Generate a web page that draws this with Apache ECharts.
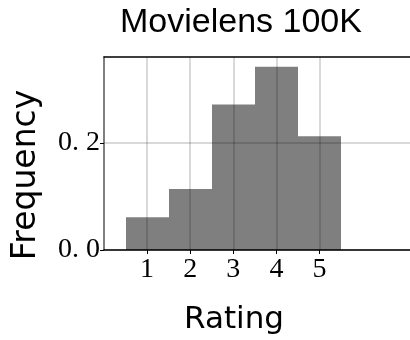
<!DOCTYPE html>
<html>
<head>
<meta charset="utf-8">
<script src="https://cdn.jsdelivr.net/npm/echarts@6/dist/echarts.min.js"></script>
<style>html,body{margin:0;padding:0;background:#fff;}#c{width:410px;height:340px;}</style>
</head>
<body>
<div id="c"></div>
<script>
var ratings = [1, 2, 3, 4, 5];
var frequency = [0.0611, 0.1137, 0.2715, 0.3417, 0.2120];
var xTicks = [1, 2, 3, 4, 5];
var yTicks = [0, 0.2];
var titleText = 'Movielens 100K';
var xName = 'Rating';
var yName = 'Frequency';

var chart = echarts.init(document.getElementById('c'), null, {renderer: 'canvas'});
var sans = 'Liberation Sans';
var dsans = 'DejaVu Sans';
var serif = 'Liberation Serif';
var gridColor = 'rgba(0,0,0,0.2)';

chart.setOption({
  animation: false,
  title: {
    text: titleText, left: 236, top: 1, textAlign: 'center',
    textStyle: {fontFamily: sans, fontSize: 34, fontWeight: 'normal', color: '#000'}
  },
  grid: {left: 104, top: 57, bottom: 88, right: -4},
  xAxis: [{
    type: 'value', min: 0, max: 7.1, interval: 1,
    name: xName, nameLocation: 'middle', nameGap: 54, nameMoveOverlap: false,
    nameTextStyle: {fontFamily: dsans, fontSize: 31, color: '#000', padding: [0, 46, 0, 0]},
    axisLine: {show: true, onZero: false, lineStyle: {color: '#000', width: 1.5}},
    axisTick: {show: true, customValues: xTicks, length: 4, lineStyle: {color: '#000', width: 1}},
    axisLabel: {customValues: xTicks, margin: 6, fontFamily: serif, fontSize: 28, color: '#000',
      formatter: function (v) { return String(v); }},
    splitLine: {show: true, lineStyle: {color: gridColor, width: 1.5}}
  }, {
    type: 'value', position: 'top', min: 0, max: 7.1,
    axisLine: {show: true, onZero: false, lineStyle: {color: '#000', width: 1.5}},
    axisTick: {show: false}, axisLabel: {show: false}, splitLine: {show: false}
  }],
  yAxis: {
    type: 'value', min: 0, max: 0.36, interval: 0.2,
    name: yName, nameLocation: 'middle', nameGap: 61, nameRotate: 90, nameMoveOverlap: false,
    nameTextStyle: {fontFamily: dsans, fontSize: 33, color: '#000', padding: [0, 43, 0, 0]},
    axisLine: {show: true, onZero: false, lineStyle: {color: '#555', width: 1.5}},
    axisTick: {show: true, customValues: yTicks, length: 4, lineStyle: {color: '#000', width: 1}},
    axisLabel: {customValues: yTicks, margin: 4, fontFamily: serif, fontSize: 28, color: '#000',
      formatter: function (v) { return v.toFixed(1).replace('.', '. '); }},
    splitLine: {show: true, lineStyle: {color: gridColor, width: 1.5}}
  },
  series: [{
    type: 'custom',
    data: ratings.map(function (r, i) { return [r, frequency[i]]; }),
    renderItem: function (params, api) {
      var x = api.value(0), y = api.value(1);
      var p0 = api.coord([x - 0.5, y]);
      var p1 = api.coord([x + 0.5, 0]);
      var x0 = Math.round(p0[0]), x1 = Math.round(p1[0]);
      return {type: 'rect', shape: {x: x0, y: p0[1], width: x1 - x0, height: p1[1] - p0[1]},
        style: {fill: 'rgba(0,0,0,0.5)'}};
    },
    z: 1
  }]
});
</script>
</body>
</html>
